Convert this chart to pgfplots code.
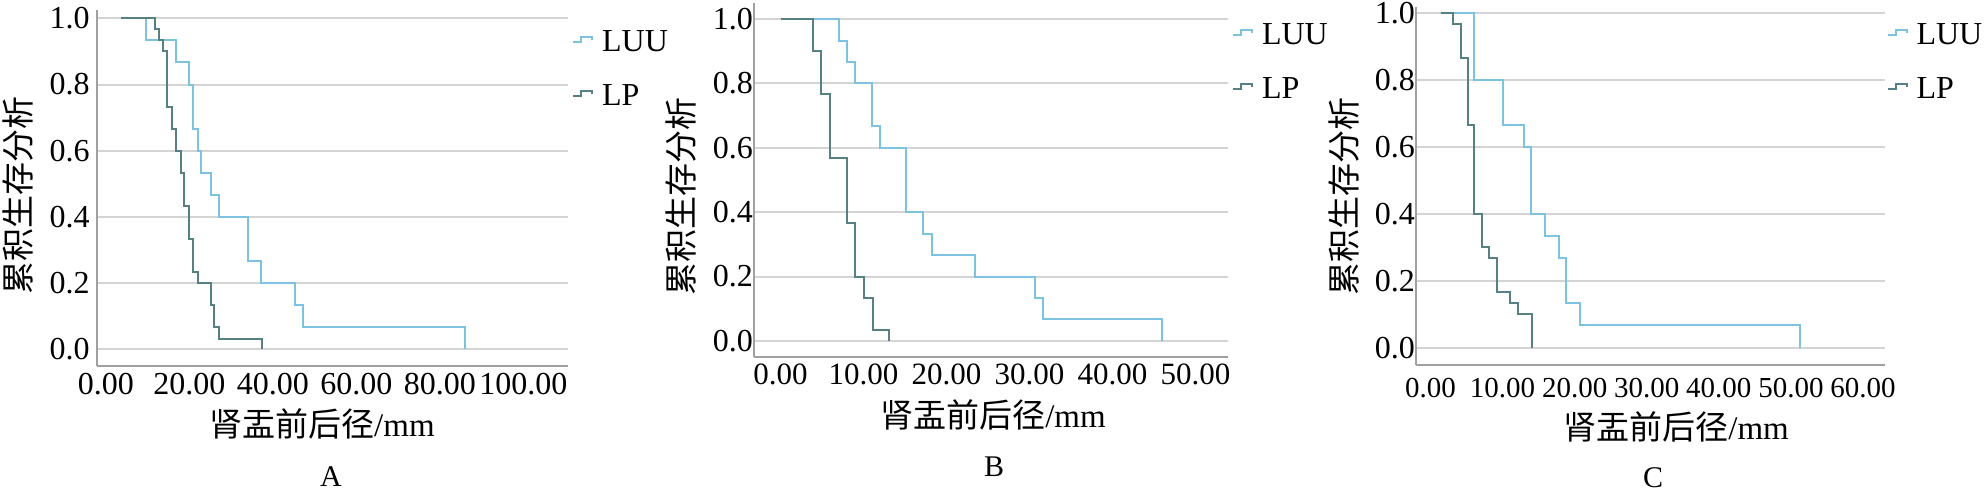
\documentclass[border=0pt]{standalone}
\usepackage{fontspec}
\setmainfont{Liberation Serif}
\newfontfamily\cjk{Noto Sans CJK SC}
\usepackage{pgfplots}
\pgfplotsset{compat=1.18}
\definecolor{luu}{RGB}{125,194,224}
\definecolor{lp}{RGB}{86,128,130}
\definecolor{gridc}{RGB}{212,212,212}
\definecolor{axc}{RGB}{160,160,160}
\pgfplotsset{km/.style={
  scale only axis, clip=false,
  axis lines*=left, axis line style={-, draw=axc, line width=1pt},
  ymajorgrids, grid style={draw=gridc, line width=1pt},
  ytick={0,0.2,0.4,0.6,0.8,1.0}, yticklabels={0.0,0.2,0.4,0.6,0.8,1.0},
  tick style={draw=none},
  tick label style={font=\fontsize{16}{19}\selectfont},
  label style={font=\fontsize{16.5}{19}\selectfont},
  every axis plot/.append style={const plot, line width=1pt, mark=none},
  legend image code/.code={\draw[##1, line width=1pt] (0pt,0pt) -- (4pt,0pt) -- (4pt,2.5pt) -- (9.5pt,2.5pt) -- (9.5pt,1pt);},
  legend cell align=left,
  legend style={draw=none, fill=none, inner sep=0pt, font=\fontsize{16}{19}\selectfont,
    row sep=15pt, nodes={inner sep=0pt, anchor=west},
    /tikz/every odd column/.append style={column sep=4.5pt}},
}}
\begin{document}
\begin{tikzpicture}
% ---------- A ----------
\begin{axis}[km, at={(48.35pt,-183pt)}, anchor=south west,
  width=235.65pt, height=178pt,
  xmin=-2.2, xmax=110.7, ymin=-0.050, ymax=1.025,
  xtick={0,20,40,60,80,100}, xticklabels={0.00,20.00,40.00,60.00,80.00,100.00},
  xlabel={{\cjk 肾盂前后径}/mm}, ylabel={\cjk 累积生存分析},
  xlabel style={at={(axis description cs:0.478,-0.1615)}, anchor=center},
  ylabel style={at={(axis description cs:-0.167,0.480)}, anchor=center, rotate=0},
  legend style={at={(axis description cs:1.008,0.944)}, anchor=north west}]
\addplot[luu] coordinates {(3.7,1)(9.6,0.933)(16.8,0.867)(19.9,0.8)(20.8,0.667)(22.0,0.6)(22.8,0.533)(25.1,0.467)(27.1,0.4)(34.1,0.267)(37.1,0.2)(45.3,0.133)(47.3,0.067)(86.1,0)};
\addplot[lp] coordinates {(3.7,1)(11.7,0.967)(12.7,0.933)(13.7,0.9)(14.7,0.733)(15.8,0.667)(16.8,0.6)(17.9,0.533)(18.8,0.433)(19.9,0.333)(20.8,0.233)(22.0,0.2)(25.1,0.133)(26.0,0.067)(27.1,0.033)(37.3,0)};
\legend{LUU,LP}
\node[font=\fontsize{15}{18}\selectfont] at (axis description cs:0.497,-0.312) {A};
\end{axis}
% ---------- B ----------
\begin{axis}[km, at={(377pt,-178.5pt)}, anchor=south west,
  width=237.15pt, height=176.85pt,
  xmin=-3.2, xmax=53.95, ymin=-0.050, ymax=1.049,
  xtick={0,10,20,30,40,50}, xticklabels={0.00,10.00,20.00,30.00,40.00,50.00},
  xticklabel style={font=\fontsize{15.5}{18}\selectfont},
  yticklabel style={xshift=3pt},
  xlabel={{\cjk 肾盂前后径}/mm}, ylabel={\cjk 累积生存分析},
  xlabel style={at={(axis description cs:0.504,-0.164)}, anchor=center},
  ylabel style={at={(axis description cs:-0.153,0.454)}, anchor=center, rotate=0},
  legend style={at={(axis description cs:1.007,0.944)}, anchor=north west}]
\addplot[luu] coordinates {(0,1)(7.0,0.933)(8.0,0.867)(9.0,0.8)(11.0,0.667)(12.0,0.6)(15.1,0.4)(17.2,0.333)(18.3,0.267)(23.4,0.2)(30.6,0.133)(31.6,0.067)(46.0,0)};
\addplot[lp] coordinates {(0,1)(3.9,0.9)(4.9,0.767)(5.9,0.567)(8.0,0.367)(9.0,0.2)(10.1,0.133)(11.1,0.033)(13.1,0)};
\legend{LUU,LP}
\node[font=\fontsize{15}{18}\selectfont] at (axis description cs:0.506,-0.311) {B};
\end{axis}
% ---------- C ----------
\begin{axis}[km, at={(708pt,-182.5pt)}, anchor=south west,
  width=234.35pt, height=179.15pt,
  xmin=-2.0, xmax=63.0, ymin=-0.052, ymax=1.020,
  xtick={0,10,20,30,40,50,60}, xticklabels={0.00,10.00,20.00,30.00,40.00,50.00,60.00},
  yticklabel style={xshift=3pt}, xticklabel style={yshift=-3pt, font=\fontsize{14.5}{17}\selectfont},
  xlabel={{\cjk 肾盂前后径}/mm}, ylabel={\cjk 累积生存分析},
  xlabel style={at={(axis description cs:0.555,-0.172)}, anchor=center},
  ylabel style={at={(axis description cs:-0.154,0.470)}, anchor=center, rotate=0},
  legend style={at={(axis description cs:1.003,0.955)}, anchor=north west}]
\addplot[luu] coordinates {(1.4,1)(6.1,0.8)(10.1,0.667)(13.0,0.6)(14.0,0.4)(15.9,0.333)(17.8,0.267)(18.8,0.133)(20.7,0.067)(51.3,0)};
\addplot[lp] coordinates {(1.4,1)(3.1,0.967)(4.3,0.867)(5.2,0.667)(6.1,0.4)(7.2,0.3)(8.1,0.267)(9.2,0.167)(11.0,0.133)(12.1,0.1)(14.1,0)};
\legend{LUU,LP}
\node[font=\fontsize{15}{18}\selectfont] at (axis description cs:0.506,-0.314) {C};
\end{axis}
\pgfresetboundingbox
\path[use as bounding box] (0pt,0pt) rectangle (992.5pt,-248.5pt);
\end{tikzpicture}
\end{document}
